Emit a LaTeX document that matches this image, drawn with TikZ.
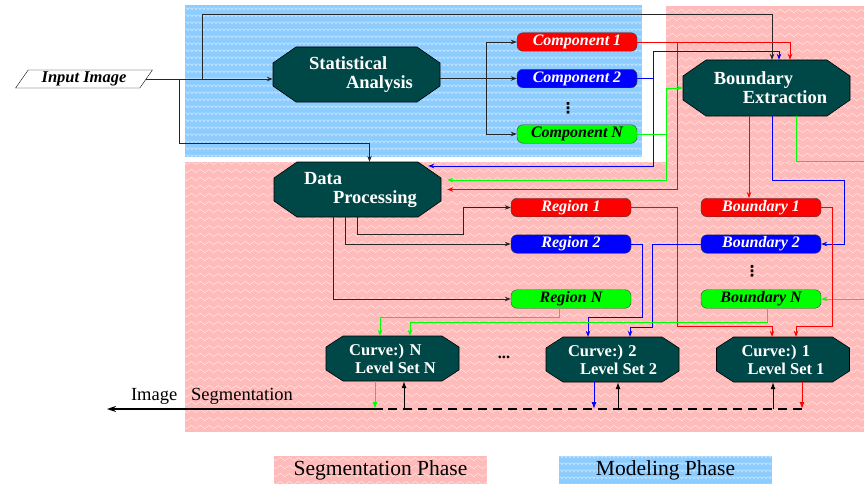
\documentclass[tikz,border=0pt]{standalone}
\usepackage{fontspec}
\setmainfont{Liberation Serif}
\newfontfamily\dejavu{DejaVu Sans}
\usetikzlibrary{shapes.geometric,arrows.meta,decorations.pathmorphing}
\definecolor{segpink}{RGB}{255,186,186}
\definecolor{modblue}{RGB}{140,204,255}
\definecolor{octfill}{RGB}{0,72,72}
\tikzset{
  arr/.style={-{Stealth[length=6pt,width=4.5pt,inset=2pt]}},
  tip/.style={-{Latex[length=7pt,width=5pt]}},
  blk/.style={black!85,line width=0.8pt},
  redln/.style={red,line width=0.8pt},
  blueln/.style={blue,line width=0.8pt},
  greenln/.style={green,line width=0.8pt},
  zig/.style={white,opacity=0.75,line width=0.4pt,decorate,decoration={zigzag,segment length=9pt,amplitude=1.6pt}},
  scal/.style={white,opacity=0.7,line width=0.4pt,decorate,decoration={bumps,segment length=8pt,amplitude=2.2pt}},
  octline/.style={fill=octfill,draw=black,line width=0.6pt},
  octtext/.style={text=white,align=left,inner sep=0pt,font=\fontsize{18.5}{19}\selectfont\bfseries},
  box/.style={draw=black!75,rounded corners=6pt,minimum width=120pt,minimum height=18.5pt,inner sep=0pt,font=\fontsize{16}{16}\selectfont\bfseries\itshape},
  redbox/.style={box,fill=red,text=white},
  bluebox/.style={box,fill=blue,text=white},
  greenbox/.style={box,fill=green,text=black},
  vdot/.style={font=\dejavu\fontsize{15}{15}\selectfont\bfseries,inner sep=0pt}
}
\newcommand{\pinkpatch}[4]{%
\fill[segpink] (#1,#2) rectangle (#3,#4);
\begin{scope}
\clip (#1,#2) rectangle (#3,#4);
\pgfmathtruncatemacro\kfrom{#2/8}
\pgfmathtruncatemacro\kto{#4/8+1}
\foreach \k in {\kfrom,...,\kto}
  \draw[zig] (#1-5,8*\k+3) -- (#3+5,8*\k+3);
\end{scope}}
\newcommand{\bluepatch}[4]{%
\fill[modblue] (#1,#2) rectangle (#3,#4);
\begin{scope}
\clip (#1,#2) rectangle (#3,#4);
\pgfmathtruncatemacro\kfrom{#2/7}
\pgfmathtruncatemacro\kto{#4/7+1}
\foreach \k in {\kfrom,...,\kto}{
  \pgfmathsetmacro\xoff{4*mod(\k,2)}
  \draw[scal] (#1-9+\xoff,7*\k+3) -- (#3+5,7*\k+3);}
\end{scope}}
\newcommand{\octo}[9][]{%
\filldraw[octline] (#3-#5,#4-#6+#8) -- (#3-#5+#7,#4-#6) -- (#3+#5-#7,#4-#6) -- (#3+#5,#4-#6+#8)
  -- (#3+#5,#4+#6-#8) -- (#3+#5-#7,#4+#6) -- (#3-#5+#7,#4+#6) -- (#3-#5,#4+#6-#8) -- cycle;
\node[octtext,minimum width=2*#5,minimum height=2*#6,#1] (#2) at (#3,#4) {#9};}

\begin{document}
\begin{tikzpicture}[x=1pt,y=-1pt]
\useasboundingbox (0,0) rectangle (864,487);

\bluepatch{185}{5}{642}{157}
\pinkpatch{666}{6}{864}{162}
\pinkpatch{185}{162}{864}{432}

\pinkpatch{274}{456}{487}{484}
\bluepatch{559}{456}{772}{484}
\node[font=\fontsize{21.5}{22}\selectfont] (seglgd) at (380.5,470) {Segmentation Phase};
\node[font=\fontsize{21.5}{22}\selectfont] (modlgd) at (665.5,470) {Modeling Phase};

\node[trapezium,trapezium left angle=55,trapezium right angle=125,draw,fill=white,
  minimum height=18pt,inner ysep=0pt,inner xsep=2pt,
  font=\fontsize{16.5}{17}\selectfont\bfseries\itshape] (input) at (84,79) {Input Image};

\octo{stat}{356.5}{74.5}{83.5}{27.5}{23}{16}{\hspace*{9pt}Statistical\\\hspace*{46pt}Analysis}
\octo{bext}{766.5}{88}{83.5}{28}{23}{16}{\hspace*{8pt}Boundary\\\hspace*{37pt}Extraction}
\octo{dproc}{357.5}{189.5}{83.5}{27.5}{23}{16}{\hspace*{6pt}Data\\\hspace*{35pt}Processing}
\octo[font=\fontsize{16.5}{18}\selectfont\bfseries]{curveN}{392.5}{358.5}{66.5}{22.5}{17}{11}{Curve:) N\\\hspace*{6pt}Level Set N}
\octo[font=\fontsize{16.5}{18}\selectfont\bfseries]{curve2}{612.5}{359.5}{66.5}{22.5}{17}{11}{Curve:) 2\\\hspace*{12pt}Level Set 2}
\octo[font=\fontsize{16.5}{18}\selectfont\bfseries]{curve1}{783}{359.5}{66.5}{22.5}{17}{11}{Curve:) 1\\\hspace*{6pt}Level Set 1}

\node[redbox] (comp1) at (577,42) {Component 1};
\node[bluebox] (comp2) at (577,78.5) {Component 2};
\node[greenbox] (compN) at (577,134) {Component N};
\node[vdot] (cdots) at (568,108) {⋮};

\node[redbox] (reg1) at (571,207.5) {Region 1};
\node[bluebox] (reg2) at (571,244) {Region 2};
\node[greenbox] (regN) at (571,299) {Region N};

\node[redbox] (bnd1) at (761,207.5) {Boundary 1};
\node[bluebox] (bnd2) at (761,244) {Boundary 2};
\node[greenbox] (bndN) at (761,299) {Boundary N};
\node[vdot] (bdots) at (752,271) {⋮};

\node[font=\fontsize{16.5}{17}\selectfont\bfseries] (mdots) at (504,357) {...};

\coordinate (j1) at (202,79);
\coordinate (j2) at (179,79);
\coordinate (rimA) at (864,161);
\coordinate (rimB) at (864,299);

% input image
\draw[blk,arr] (input.east) -- (input.east -| stat.west);
\draw[blk,arr] (j1) -- (202,14) -| ([xshift=5.5]bext.north);
\draw[blk,arr] (j2) -- (179,143) -| ([xshift=12]dproc.north);

% statistical analysis
\draw[blk,arr] (stat.east |- comp2.west) -- (comp2.west);
\draw[blk,arr] ([xshift=-30]comp2.west) |- (comp1.west);
\draw[blk,arr] ([xshift=-30]comp2.west) |- (compN.west);

\draw[redln,arr] (comp1.east) -| ([xshift=23.5]bext.north);
\draw[redln,arr] ([xshift=40]comp1.east) |- ([xshift=6]dproc.east);
\draw[blueln,arr] (comp2.east) -- ++(16,0) |- ([xshift=12.5,yshift=8]bext.north) -- ([xshift=12.5]bext.north);
\draw[blueln,arr] ([xshift=16]comp2.east) |- ([xshift=-13,yshift=23.5]dproc.east);
\draw[greenln,arr] (compN.east) -- ++(29,0) |- (bext.west);
\draw[greenln,arr] ([xshift=29]compN.east) |- ([xshift=6,yshift=9.5]dproc.east);

% boundary extraction
\coordinate (be1) at ([xshift=-17.5]bext.south);
\draw[redln,arr] (be1) -- (be1 |- bnd1.north);
\draw[blueln,arr] ([xshift=5.5]bext.south) -- ++(0,64) -| ([xshift=23]bnd2.east) -- (bnd2.east);
\draw[greenln] ([xshift=29.5]bext.south) |- (rimA);
\draw[greenln,arr] (rimB) -- (bndN.east);

% data processing
\draw[blk,arr] (dproc.south) -- ++(0,17) -| ([xshift=-47]reg1.west) -- (reg1.west);
\draw[blk,arr] ([xshift=-12.5]dproc.south) |- (reg2.west);
\draw[blk,arr] ([xshift=-24.5]dproc.south) |- (regN.west);

% regions and boundaries
\draw[greenln,arr] ([xshift=-12]regN.south) -- ++(0,9) -| ([xshift=-12.5]curveN.north);
\draw[blueln,arr] (reg2.east) -- ++(11,0) -- ++(0,73) -| ([xshift=-24.5]curve2.north);
\draw[redln,arr] (reg1.east) -- ++(46,0) -- ++(0,118.5) -| ([xshift=-11]curve1.north);
\draw[redln,arr] (bnd1.east) -- ++(11,0) -- ++(0,118.5) -| ([xshift=13]curve1.north);
\draw[blueln,arr] (bnd2.west) -- ++(-48,0) -- ++(0,83) -| ([xshift=17.5]curve2.north);
\draw[greenln,arr] ([xshift=6]bndN.south) -- ++(0,14) -| ([xshift=17.5]curveN.north);

% segmentation output
\coordinate (outL) at (107,409);
\coordinate (outM) at (383,409);
\coordinate (outR) at (802,409);
\draw[line width=1.2pt,dash pattern=on 9pt off 6pt] (outR) -- (outM);
\draw[line width=1.2pt,-{Stealth[length=9pt,width=6pt,inset=3pt]}] (outM) -- (outL);
\node[font=\fontsize{18.5}{19}\selectfont] (imgseg) at (212,396) {Image\enspace\ Segmentation};

\foreach \c/\dn/\up/\col in {curveN/-17.5/11.5/green,curve2/-18.5/5.5/blue,curve1/19/-10/red}{
  \path ([xshift=\dn]\c.south) coordinate (dpt);
  \path ([xshift=\up]\c.south) coordinate (upt);
  \draw[\col,line width=1pt,tip] (dpt) -- (dpt |- outL);
  \draw[black,line width=1pt,tip] (upt |- outL) -- (upt);
}

\end{tikzpicture}
\end{document}
